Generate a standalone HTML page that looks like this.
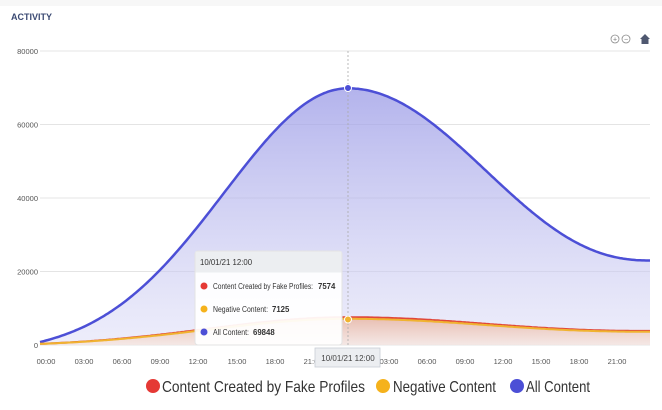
<!DOCTYPE html>
<html><head><meta charset="utf-8"><style>
html,body{margin:0;padding:0;background:#fff;width:662px;height:410px;overflow:hidden;font-family:"Liberation Sans",sans-serif}
</style></head><body>
<svg id="s" width="662" height="410" xmlns="http://www.w3.org/2000/svg" font-family="Liberation Sans, sans-serif">
<defs>
<linearGradient id="gb" x1="0" y1="0" x2="0" y2="1"><stop offset="0" stop-color="#9a9ae6" stop-opacity="0.75"/><stop offset="1" stop-color="#dcdcf6" stop-opacity="0.5"/></linearGradient>
<linearGradient id="go" x1="0" y1="0" x2="0" y2="1"><stop offset="0" stop-color="#e8b8a8" stop-opacity="0.9"/><stop offset="1" stop-color="#f6e6e0" stop-opacity="0.8"/></linearGradient>
</defs>
<rect x="0" y="0" width="662" height="6" fill="#f7f7f7"/>
<text x="11" y="20" font-size="9" font-weight="bold" fill="#3b4a73">ACTIVITY</text>
<g fill="none" stroke="#8a8a8a" stroke-width="0.8"><circle cx="615" cy="39" r="4"/><circle cx="626" cy="39" r="4"/></g>
<text x="615" y="41.5" font-size="7" text-anchor="middle" fill="#777">+</text>
<text x="626" y="41.5" font-size="7" text-anchor="middle" fill="#777">−</text>
<path d="M640 39 L645 34 L650 39 L648.5 39 L648.5 44 L641.5 44 L641.5 39 Z" fill="#4f5870"/>
<g stroke="#e4e4e4" stroke-width="1">
<line x1="40" y1="51" x2="650" y2="51"/><line x1="40" y1="124.5" x2="650" y2="124.5"/><line x1="40" y1="198" x2="650" y2="198"/><line x1="40" y1="271.5" x2="650" y2="271.5"/><line x1="40" y1="345" x2="650" y2="345"/>
</g>
<g font-size="7.5" fill="#555" text-anchor="end">
<text x="38" y="54">80000</text><text x="38" y="127.5">60000</text><text x="38" y="201">40000</text><text x="38" y="274.5">20000</text><text x="38" y="348">0</text>
</g>
<path id="blueA" fill="url(#gb)"/>
<path id="orA" fill="url(#go)"/>
<path id="blueL" fill="none" stroke="#4c4fd6" stroke-width="2.5"/>
<path id="redL" fill="none" stroke="#e0473a" stroke-width="2"/>
<path id="orL" fill="none" stroke="#f0b330" stroke-width="2"/>
<line x1="348" y1="51" x2="348" y2="345" stroke="#aaa" stroke-dasharray="2,2" stroke-width="0.8"/>
<circle cx="348" cy="88" r="3.5" fill="#4c4fd6" stroke="#fff" stroke-width="1"/>
<circle cx="348" cy="319.5" r="3.5" fill="#f0b330" stroke="#fff" stroke-width="1"/>
<g font-size="7.5" fill="#555" text-anchor="middle">
<text x="46" y="364">00:00</text><text x="84" y="364">03:00</text><text x="122" y="364">06:00</text><text x="160" y="364">09:00</text><text x="198" y="364">12:00</text><text x="237" y="364">15:00</text><text x="275" y="364">18:00</text><text x="313" y="364">21:00</text>
<text x="389" y="364">03:00</text><text x="427" y="364">06:00</text><text x="465" y="364">09:00</text><text x="503" y="364">12:00</text><text x="541" y="364">15:00</text><text x="579" y="364">18:00</text><text x="617" y="364">21:00</text>
</g>
<rect x="315" y="348" width="65" height="19" fill="#eceef1" stroke="#c9ced6" stroke-width="0.8"/>
<text x="348" y="361" font-size="8" fill="#444" text-anchor="middle">10/01/21 12:00</text>
<rect x="195" y="251" width="147" height="94" rx="3" fill="#fff" fill-opacity="0.93" stroke="#e3e3e3"/>
<rect x="195.5" y="251.5" width="146" height="21" fill="#eceef1"/>
<g font-size="7.8" fill="#333">
<text x="200" y="265">10/01/21 12:00</text>
<circle cx="204" cy="286" r="3.5" fill="#e53935"/><text x="213" y="289" textLength="100" lengthAdjust="spacingAndGlyphs">Content Created by Fake Profiles:</text><text x="318" y="289" font-weight="bold">7574</text>
<circle cx="204" cy="309" r="3.5" fill="#f5b21c"/><text x="213" y="312" textLength="55" lengthAdjust="spacingAndGlyphs">Negative Content:</text><text x="272" y="312" font-weight="bold">7125</text>
<circle cx="204" cy="332" r="3.5" fill="#4c4fd6"/><text x="213" y="335" textLength="36" lengthAdjust="spacingAndGlyphs">All Content:</text><text x="253" y="335" font-weight="bold">69848</text>
</g>
<g font-size="16" fill="#333">
<circle cx="153" cy="386" r="7" fill="#e53935"/><text x="162" y="392" textLength="203" lengthAdjust="spacingAndGlyphs">Content Created by Fake Profiles</text>
<circle cx="383" cy="386" r="7" fill="#f5b21c"/><text x="393" y="392" textLength="103" lengthAdjust="spacingAndGlyphs">Negative Content</text>
<circle cx="517" cy="386" r="7" fill="#4c4fd6"/><text x="526" y="392" textLength="64" lengthAdjust="spacingAndGlyphs">All Content</text>
</g>
</svg>
<script>
function Y(v){return 345-v*294/80000;}
function gl(x,s){return Math.exp(-Math.pow((x-348)/s,2)/2);}
function cr(x){var t=(x-348)/302;var c=(1+Math.cos(Math.PI*t))/2;return Math.pow(c,1.15);}
function blue(x){if(x<348){var g0=gl(40,124);return 800+69048*(gl(x,124)-g0)/(1-g0);}return 23000+46848*cr(x);}
function org(x){if(x<348){var g0=gl(40,140);return 300+6825*(gl(x,140)-g0)/(1-g0);}return 3600+3525*cr(x);}
function line(f){var d="";for(var x=40;x<=650;x+=2){d+=(x==40?"M":"L")+x+" "+Y(f(x)).toFixed(1)+" ";}return d;}
var b=line(blue),o=line(org),r=line(function(x){return org(x)*1.063});
document.getElementById("blueL").setAttribute("d",b);
document.getElementById("blueA").setAttribute("d",b+"L650 345 L40 345 Z");
document.getElementById("orA").setAttribute("d",r+"L650 345 L40 345 Z");
document.getElementById("redL").setAttribute("d",r);
document.getElementById("orL").setAttribute("d",o);
</script>
</body></html>
